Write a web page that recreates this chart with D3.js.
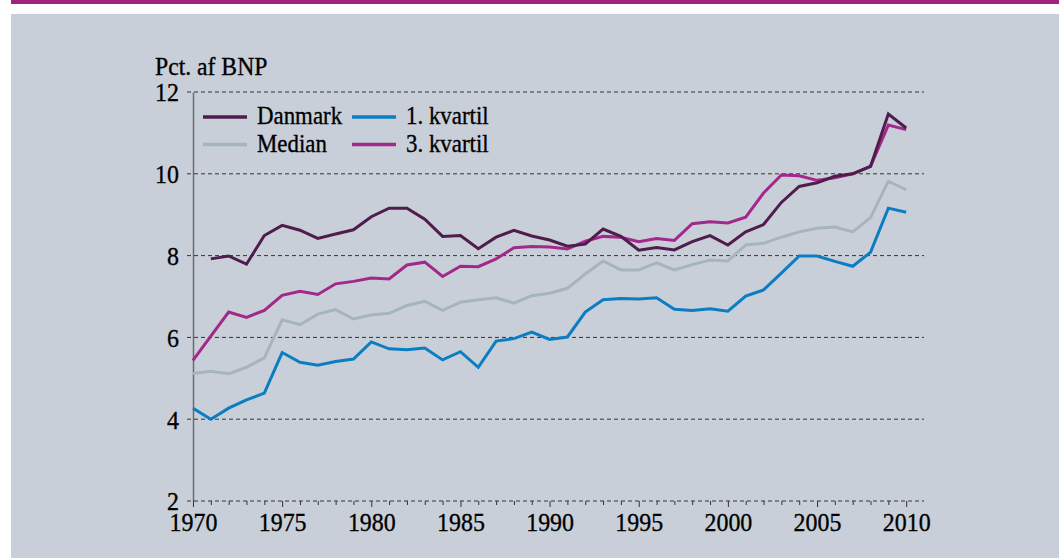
<!DOCTYPE html>
<html>
<head>
<meta charset="utf-8">
<script src="https://cdn.jsdelivr.net/npm/d3@7"></script>
<style>
  html, body { margin: 0; padding: 0; background: #fff; }
  svg { display: block; }
  text { font-family: "Liberation Serif", "Times New Roman", serif; fill: #000; stroke: #000; stroke-width: 0.35px; }
</style>
</head>
<body>
<svg id="chart"></svg>
<script>
// data (pct. af BNP)
var years = d3.range(1970, 2011);

var danmark = [null, 7.92, 7.99, 7.79, 8.49, 8.74, 8.62, 8.42, 8.53, 8.63,
  8.95, 9.16, 9.16, 8.89, 8.47, 8.49, 8.17, 8.45, 8.62, 8.48,
  8.38, 8.23, 8.28, 8.65, 8.47, 8.13, 8.20, 8.14, 8.34, 8.49,
  8.26, 8.58, 8.76, 9.30, 9.69, 9.78, 9.94, 10.0, 10.18, 11.46, 11.12];

var kvartil1 = [4.27, 4.0, 4.27, 4.47, 4.64, 5.63, 5.39, 5.32, 5.41, 5.47,
  5.89, 5.72, 5.70, 5.74, 5.45, 5.65, 5.27, 5.91, 5.97, 6.13,
  5.95, 6.01, 6.62, 6.92, 6.95, 6.94, 6.97, 6.69, 6.66, 6.70,
  6.64, 7.01, 7.16, 7.57, 7.99, 7.99, 7.86, 7.74, 8.08, 9.16, 9.06];

var median = [5.12, 5.17, 5.11, 5.27, 5.50, 6.43, 6.31, 6.57, 6.68, 6.45,
  6.55, 6.59, 6.78, 6.88, 6.66, 6.86, 6.92, 6.97, 6.84, 7.02,
  7.08, 7.20, 7.55, 7.87, 7.65, 7.65, 7.82, 7.65, 7.78, 7.89,
  7.87, 8.26, 8.30, 8.45, 8.58, 8.67, 8.70, 8.58, 8.93, 9.82, 9.61];

var kvartil3 = [5.44, 6.03, 6.62, 6.49, 6.66, 7.03, 7.13, 7.05, 7.31, 7.37,
  7.45, 7.43, 7.77, 7.84, 7.49, 7.74, 7.73, 7.92, 8.19, 8.22,
  8.21, 8.16, 8.35, 8.47, 8.45, 8.34, 8.42, 8.37, 8.78, 8.83,
  8.80, 8.94, 9.53, 9.97, 9.95, 9.84, 9.90, 10.0, 10.18, 11.19, 11.08];

var yTicks = [2, 4, 6, 8, 10, 12];
var xTicks = [1970, 1975, 1980, 1985, 1990, 1995, 2000, 2005, 2010];

var series = [
  {name: 'Median',     values: median,   color: '#a5b5bf'},
  {name: '1. kvartil', values: kvartil1, color: '#0b7dc2'},
  {name: '3. kvartil', values: kvartil3, color: '#a3288b'},
  {name: 'Danmark',    values: danmark,  color: '#4f1d4d'}
];

var W = 1059, H = 558;
var margin = {top: 92, right: 135, bottom: 57, left: 193};
var FS = 26;

var svg = d3.select('#chart').attr('width', W).attr('height', H);

// squeeze text horizontally, the original uses a narrow Times cut
function squeeze(sel, k) {
  sel.each(function() {
    var w = this.getComputedTextLength();
    if (w > 0) d3.select(this).attr('textLength', w * k).attr('lengthAdjust', 'spacingAndGlyphs');
  });
}

// frame: purple band on top, grey panel
svg.append('rect').attr('x', 11).attr('y', 0).attr('width', W - 11).attr('height', 4).attr('fill', '#a1237f');
svg.append('rect').attr('x', 11).attr('y', 14).attr('width', W - 11).attr('height', H - 14).attr('fill', '#c9cfd8');

var x = d3.scaleLinear().domain([1970, 2011]).range([margin.left, W - margin.right]);
var y = d3.scaleLinear().domain([2, 12]).range([H - margin.bottom, margin.top]);

// dashed gridlines
svg.append('g')
  .selectAll('line')
  .data(yTicks)
  .enter()
  .append('line')
  .attr('x1', margin.left - 6)
  .attr('x2', x(2011))
  .attr('y1', d => y(d))
  .attr('y2', d => y(d))
  .attr('stroke', '#333')
  .attr('stroke-width', 1)
  .attr('stroke-dasharray', '4,3');

// y axis
var yAxis = svg.append('g')
  .attr('transform', 'translate(' + margin.left + ',0)')
  .call(d3.axisLeft(y).tickValues(yTicks).tickSize(0).tickPadding(14).tickFormat(d3.format('d')));
yAxis.select('.domain').attr('stroke', '#6b6b6b').attr('stroke-width', 1.5);
yAxis.selectAll('text').attr('font-size', FS).attr('dy', '0.34em').call(squeeze, 0.92);

// x axis, minor ticks every year
var xAxis = svg.append('g')
  .attr('transform', 'translate(0,' + y(2) + ')')
  .call(d3.axisBottom(x).tickValues(years).tickSize(4).tickPadding(4)
    .tickFormat(d => xTicks.indexOf(d) >= 0 ? d : ''));
xAxis.select('.domain').remove();
xAxis.selectAll('.tick line').attr('stroke', '#333').attr('y2', d => d % 5 === 0 ? 6 : 4);
xAxis.selectAll('text').attr('font-size', FS).attr('y', 30).attr('dy', 0).call(squeeze, 0.92);

// unit label
svg.append('text')
  .attr('x', 155)
  .attr('y', 75)
  .attr('font-size', FS)
  .text('Pct. af BNP')
  .call(squeeze, 0.91);

// lines
var line = d3.line()
  .defined(d => d != null)
  .x((d, i) => x(years[i]))
  .y(d => y(d));

svg.append('g')
  .selectAll('path')
  .data(series)
  .enter()
  .append('path')
  .attr('d', d => line(d.values))
  .attr('fill', 'none')
  .attr('stroke', d => d.color)
  .attr('stroke-width', 3)
  .attr('stroke-linejoin', 'miter');

// legend
var legendItems = [
  {name: 'Danmark',    color: '#4f1d4d', col: 0, row: 0},
  {name: 'Median',     color: '#a5b5bf', col: 0, row: 1},
  {name: '1. kvartil', color: '#0b7dc2', col: 1, row: 0},
  {name: '3. kvartil', color: '#a3288b', col: 1, row: 1}
];

var legend = svg.append('g')
  .selectAll('g')
  .data(legendItems)
  .enter()
  .append('g')
  .attr('transform', d => 'translate(' + (203 + d.col * 149) + ',' + (117 + d.row * 27.5) + ')');

legend.append('line')
  .attr('x1', 0).attr('x2', 44)
  .attr('stroke', d => d.color)
  .attr('stroke-width', 3.5);

legend.append('text')
  .attr('x', 54)
  .attr('y', 7)
  .attr('font-size', FS)
  .text(d => d.name)
  .call(squeeze, 0.88);
</script>
</body>
</html>
